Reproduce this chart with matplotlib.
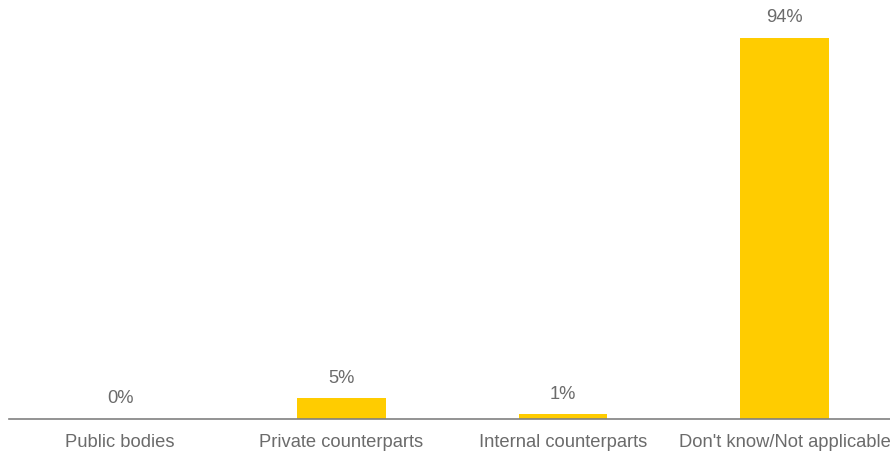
import matplotlib.pyplot as plt

categories = ["Public bodies", "Private counterparts", "Internal counterparts", "Don't know/Not applicable"]
values = [0, 5, 1, 94]
labels = ["0%", "5%", "1%", "94%"]

plt.rcParams['font.family'] = ['Liberation Sans', 'DejaVu Sans']

fig = plt.figure(figsize=(8.9, 4.52), dpi=100)
# axes runs past the right edge, like the original export
ax = fig.add_axes([9.25 / 890, 32.5 / 452, 886 / 890, 405 / 452])

x = range(len(categories))
ax.bar(x, values, width=0.4, color="#FFCC00")

for xi, v, lab in zip(x, values, labels):
    ax.annotate(lab, (xi, v), xytext=(0, 9), textcoords="offset points",
                ha="center", va="bottom", fontsize=13.2, color="#6b6b6b")

ax.set_xlim(-0.5, 3.5)
ax.set_ylim(0, 100)
ax.set_xticks(list(x))
ax.set_xticklabels(categories, fontsize=13.2, color="#6b6b6b")
ax.tick_params(axis="x", length=0, pad=10.5)
ax.set_yticks([])
for s in ["top", "left", "right"]:
    ax.spines[s].set_visible(False)
ax.spines["bottom"].set_color("#808080")
ax.spines["bottom"].set_linewidth(1.2)

fig.savefig("out.png", dpi=100)
